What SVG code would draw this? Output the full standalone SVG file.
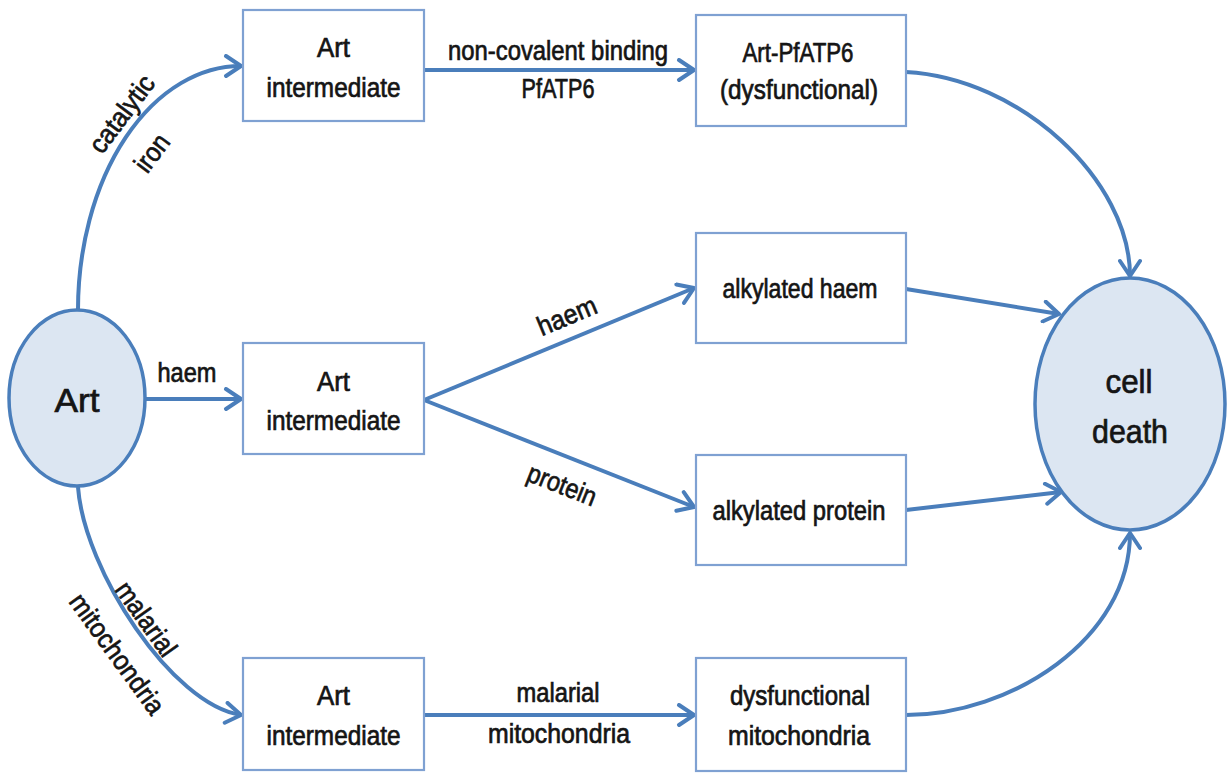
<svg xmlns="http://www.w3.org/2000/svg" width="1227" height="774" viewBox="0 0 1227 774">
<defs>
<style>
.box{fill:#fff;stroke:#7FA1D2;stroke-width:2.2}
.circ{fill:#DCE6F2;stroke:#4A7EBB;stroke-width:3.5}
.t{font-family:"Liberation Sans",Arial,sans-serif;font-size:27px;fill:#151515;stroke:#151515;stroke-width:0.7;text-anchor:middle}
.big{font-size:33px}
.conn path{fill:none;stroke:#4A7EBB;stroke-width:4;marker-end:url(#arr)}
</style>
<marker id="arr" markerUnits="userSpaceOnUse" viewBox="0 0 20 24" markerWidth="20" markerHeight="24" refX="18" refY="12" orient="auto">
<path d="M3,2 L18,12 L3,22" fill="none" stroke="#4A7EBB" stroke-width="4" stroke-linejoin="round" stroke-linecap="round"/>
</marker>
</defs>
<rect width="1227" height="774" fill="#fff"/>

<g id="connectors" class="conn">
<path d="M78,310 A163,244 0 0 1 241,66"/>
<path d="M424,70 L694,70"/>
<path d="M906,72 C1020,78 1130,180 1130,276"/>
<path d="M146,399 L241,399"/>
<path d="M424,400 L694,288"/>
<path d="M424,400 L694,507"/>
<path d="M906,289 L1059,314"/>
<path d="M906,510 L1061,492"/>
<path d="M78,487 C84,570 172,705 241,715"/>
<path d="M424,715 L694,715"/>
<path d="M906,715 C1010,715 1130,640 1130,533"/>
</g>

<g id="edge-labels">
<text class="t" transform="translate(122,114) rotate(-53)" y="9" textLength="90" lengthAdjust="spacingAndGlyphs">catalytic</text>
<text class="t" transform="translate(152,153) rotate(-53)" y="9" textLength="40" lengthAdjust="spacingAndGlyphs">iron</text>
<text class="t" x="558" y="60" textLength="220" lengthAdjust="spacingAndGlyphs">non-covalent binding</text>
<text class="t" x="558" y="98" textLength="73" lengthAdjust="spacingAndGlyphs">PfATP6</text>
<text class="t" x="187" y="382" textLength="59" lengthAdjust="spacingAndGlyphs">haem</text>
<text class="t" transform="translate(567,316) rotate(-22.5)" y="9" textLength="62" lengthAdjust="spacingAndGlyphs">haem</text>
<text class="t" transform="translate(562,485) rotate(21.5)" y="9" textLength="72" lengthAdjust="spacingAndGlyphs">protein</text>
<text class="t" transform="translate(146,619) rotate(54.5)" y="9" textLength="85" lengthAdjust="spacingAndGlyphs">malarial</text>
<text class="t" transform="translate(117,654) rotate(54)" y="9" textLength="142" lengthAdjust="spacingAndGlyphs">mitochondria</text>
<text class="t" x="558" y="702" textLength="83" lengthAdjust="spacingAndGlyphs">malarial</text>
<text class="t" x="559" y="743" textLength="142" lengthAdjust="spacingAndGlyphs">mitochondria</text>
</g>

<g id="art">
<ellipse class="circ" cx="77" cy="398" rx="68" ry="88"/>
<text class="t big" x="77" y="412" textLength="45" lengthAdjust="spacingAndGlyphs">Art</text>
</g>

<g id="int-top">
<rect class="box" x="243" y="10" width="181" height="111"/>
<text class="t" x="333.5" y="57" textLength="33" lengthAdjust="spacingAndGlyphs">Art</text>
<text class="t" x="333.5" y="97" textLength="134" lengthAdjust="spacingAndGlyphs">intermediate</text>
</g>

<g id="int-mid">
<rect class="box" x="243" y="343" width="181" height="111"/>
<text class="t" x="333.5" y="391" textLength="33" lengthAdjust="spacingAndGlyphs">Art</text>
<text class="t" x="333.5" y="430" textLength="134" lengthAdjust="spacingAndGlyphs">intermediate</text>
</g>

<g id="int-bot">
<rect class="box" x="243" y="658" width="181" height="112"/>
<text class="t" x="333.5" y="705" textLength="33" lengthAdjust="spacingAndGlyphs">Art</text>
<text class="t" x="333.5" y="745" textLength="134" lengthAdjust="spacingAndGlyphs">intermediate</text>
</g>

<g id="pfatp6">
<rect class="box" x="696" y="15" width="210" height="111"/>
<text class="t" x="798" y="62" textLength="111" lengthAdjust="spacingAndGlyphs">Art-PfATP6</text>
<text class="t" x="799" y="99" textLength="158" lengthAdjust="spacingAndGlyphs">(dysfunctional)</text>
</g>

<g id="alk-haem">
<rect class="box" x="696" y="233" width="210" height="110"/>
<text class="t" x="800" y="298" textLength="155" lengthAdjust="spacingAndGlyphs">alkylated haem</text>
</g>

<g id="alk-protein">
<rect class="box" x="696" y="455" width="210" height="110"/>
<text class="t" x="799" y="520" textLength="173" lengthAdjust="spacingAndGlyphs">alkylated protein</text>
</g>

<g id="dys-mito">
<rect class="box" x="696" y="658" width="210" height="113"/>
<text class="t" x="800" y="705" textLength="140" lengthAdjust="spacingAndGlyphs">dysfunctional</text>
<text class="t" x="799" y="745" textLength="142" lengthAdjust="spacingAndGlyphs">mitochondria</text>
</g>

<g id="cell-death">
<ellipse class="circ" cx="1130" cy="404" rx="95" ry="126"/>
<text class="t big" x="1129" y="393" textLength="47" lengthAdjust="spacingAndGlyphs">cell</text>
<text class="t big" x="1130" y="443" textLength="76" lengthAdjust="spacingAndGlyphs">death</text>
</g>
</svg>
